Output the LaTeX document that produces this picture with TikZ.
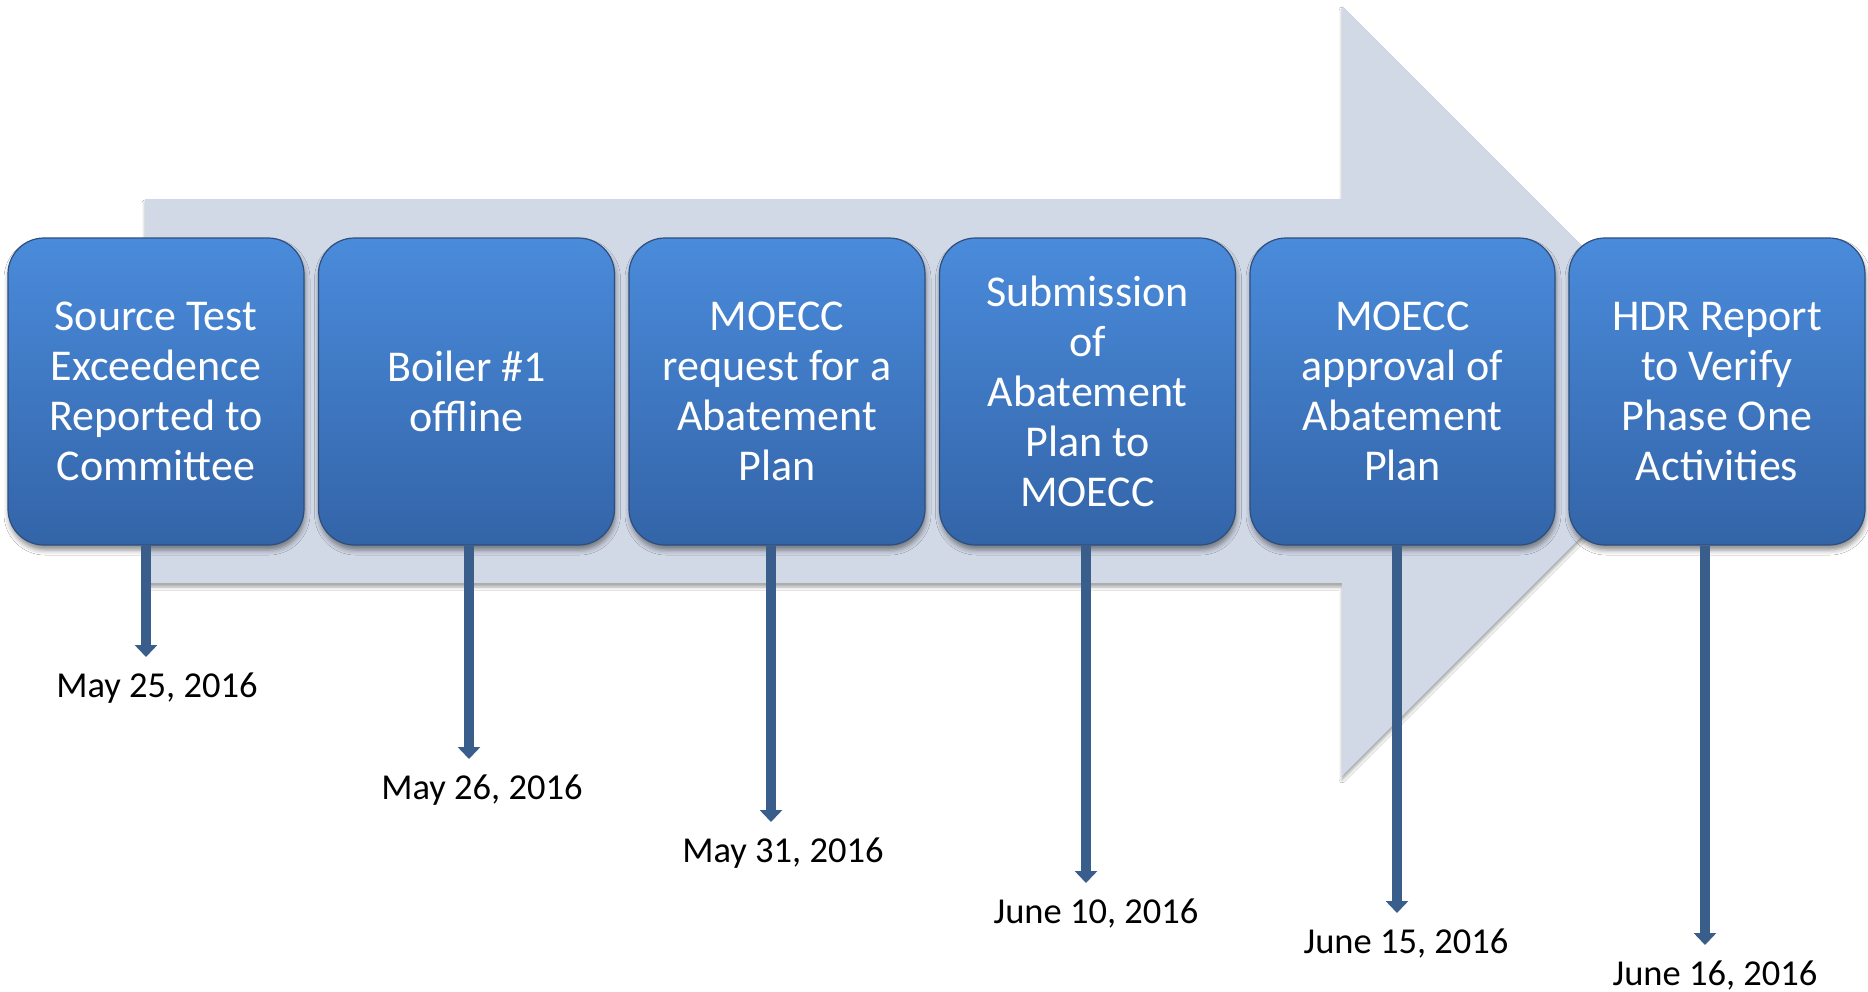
\documentclass[tikz,border=0pt]{standalone}
\usepackage{fontspec}
\setmainfont{Carlito}
\usetikzlibrary{arrows.meta,shadows.blur}
\definecolor{shaftfill}{HTML}{D1D8E6}
\definecolor{boxtop}{HTML}{4A8BDB}
\definecolor{boxbot}{HTML}{3364A8}
\definecolor{boxedge}{HTML}{2D4F7E}
\definecolor{conncol}{HTML}{3A5E8C}
\tikzset{
  stepbox/.style={rectangle, rounded corners=36pt, minimum width=296pt,
    minimum height=307pt, inner sep=0pt, top color=boxtop, bottom color=boxbot,
    draw=boxedge, line width=1.2pt, text=white, align=center,
    font=\fontsize{44}{50}\selectfont,
    blur shadow={shadow xshift=1pt, shadow yshift=-5pt, shadow blur radius=5pt, shadow opacity=45}},
  datelabel/.style={anchor=base, inner sep=0pt, font=\fontsize{36.5}{44}\selectfont, text=black},
  conn/.style={draw=conncol, line width=10pt, -{Triangle[width=22pt,length=12pt]}},
}
\begin{document}
\begin{tikzpicture}[x=1pt,y=-1pt]
  \fill[white] (0,0) rectangle (1868,991);
  \useasboundingbox (0,0) rectangle (1868,991);

  % large background arrow
  \fill[shaftfill, blur shadow={shadow xshift=0pt, shadow yshift=-4pt, shadow blur radius=3pt, shadow opacity=35}]
    (145,199) -- (1342,199) -- (1342,6) -- (1727,391) -- (1342,776) -- (1342,583) -- (145,583) -- cycle;

  % date labels
  \node[datelabel] (d1) at (157,697)  {May 25, 2016};
  \node[datelabel] (d2) at (482,799)  {May 26, 2016};
  \node[datelabel] (d3) at (783,862)  {May 31, 2016};
  \node[datelabel] (d4) at (1096,923) {June 10, 2016};
  \node[datelabel] (d5) at (1406,953) {June 15, 2016};
  \node[datelabel] (d6) at (1715,985) {June 16, 2016};

  % arrow tips above the dates
  \coordinate (t1) at (146,657);
  \coordinate (t2) at (469,759);
  \coordinate (t3) at (771,822);
  \coordinate (t4) at (1086,883);
  \coordinate (t5) at (1397,913);
  \coordinate (t6) at (1705,945);

  % steps
  \node[stepbox] (b1) at (156,391.5)  {Source Test\\Exceedence\\Reported to\\Committee};
  \node[stepbox] (b2) at (466.5,391.5) {Boiler \#1\\offline};
  \node[stepbox] (b3) at (777,391.5)  {MOECC\\request for a\\Abatement\\Plan};
  \node[stepbox] (b4) at (1087.5,391.5) {Submission\\of\\Abatement\\Plan to\\MOECC};
  \node[stepbox, minimum width=305pt] (b5) at (1402.5,391.5) {MOECC\\approval of\\Abatement\\Plan};
  \node[stepbox] (b6) at (1717,391.5) {HDR Report\\to Verify\\Phase One\\Activities};

  % connectors from steps to dates
  \draw[conn] (b1.south -| t1) -- (t1);
  \draw[conn] (b2.south -| t2) -- (t2);
  \draw[conn] (b3.south -| t3) -- (t3);
  \draw[conn] (b4.south -| t4) -- (t4);
  \draw[conn] (b5.south -| t5) -- (t5);
  \draw[conn] (b6.south -| t6) -- (t6);
\end{tikzpicture}
\end{document}
